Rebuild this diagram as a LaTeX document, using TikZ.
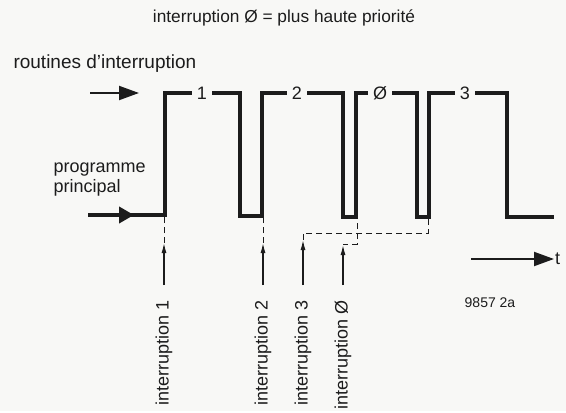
\documentclass[tikz,border=0pt]{standalone}
\usepackage{fontspec}
\setmainfont{Liberation Sans}
\usepackage{tikz}
\usetikzlibrary{arrows.meta, positioning, calc}
\definecolor{myink}{RGB}{28,28,28}
\definecolor{mypaper}{RGB}{248,248,246}
\tikzset{
  wave/.style={line width=4pt, color=myink, line join=miter},
  levellabel/.style={fill=mypaper, inner xsep=5pt, inner ysep=3pt},
  trigarrow/.style={-{Latex[length=10pt,width=5pt]}, line width=1.2pt, color=myink},
  trigdash/.style={line width=1pt, color=myink, dash pattern=on 6pt off 4pt},
  triglabel/.style={rotate=90, anchor=east},
  bigarrow/.style={-{Triangle[length=20pt,width=14pt]}, line width=2pt, color=myink}
}

\begin{document}
\begin{tikzpicture}[x=1pt, y=-1pt, every node/.style={font=\fontsize{18}{20}\selectfont, text=myink}]
  % Paper
  \fill[mypaper] (0,0) rectangle (566,411);

  % Title
  \node[font=\fontsize{17.3}{20}\selectfont] (title) at (284,18) {interruption Ø = plus haute priorité};

  % Upper level: interrupt routines
  \node[anchor=west, font=\fontsize{19}{21}\selectfont] (routines) at (10,64) {routines d’interruption};
  \coordinate (rin) at (90,93);
  \coordinate (rout) at (139,93);
  \draw[bigarrow] (rin) -- (rout);

  % Lower level: main program
  \node[anchor=west, align=left] (prog) at (50,180) {programme\\principal};
  \coordinate (pin) at (88,215);
  \coordinate (pmid) at (134,215);

  % Waveform
  \draw[wave] (pin) -- (165,215) -- (165,93) -- (240,93) -- (240,216) -- (262,216)
    -- (262,93) -- (343,93) -- (343,217) -- (356,217) -- (356,93) -- (417,93)
    -- (417,217) -- (429,217) -- (429,93) -- (507,93) -- (507,217) -- (554,217);
  \draw[-{Triangle[length=15pt,width=16pt]}, line width=4pt, color=myink] (pin) -- (pmid);
  \node[levellabel] (lev1) at (202,93) {1};
  \node[levellabel] (lev2) at (297,93) {2};
  \node[levellabel] (lev0) at (380,93) {Ø};
  \node[levellabel] (lev3) at (465,93) {3};

  % Interrupt requests
  \coordinate (i1b) at (164,285);  \coordinate (i1t) at (164,243);
  \coordinate (i2b) at (263,285);  \coordinate (i2t) at (263,243);
  \coordinate (i3b) at (303,285);  \coordinate (i3t) at (303,240);
  \coordinate (i0b) at (343,285);  \coordinate (i0t) at (343,245);
  \draw[trigarrow] (i1b) -- (i1t);
  \draw[trigarrow] (i2b) -- (i2t);
  \draw[trigarrow] (i3b) -- (i3t);
  \draw[trigarrow] (i0b) -- (i0t);
  \node[triglabel] (lab1) at ($(i1b)+(0,12)$) {interruption 1};
  \node[triglabel] (lab2) at ($(i2b)+(0,12)$) {interruption 2};
  \node[triglabel] (lab3) at ($(i3b)+(0,12)$) {interruption 3};
  \node[triglabel] (lab0) at ($(i0b)+(0,12)$) {interruption Ø};

  % Dashed links to the waveform
  \draw[trigdash] (i1t) -- (164,216);
  \draw[trigdash] (i2t) -- (263,217);
  \draw[trigdash] (i3t) |- (428,233) -- (428,218);
  \draw[trigdash] (i0t) |- (357,244) -- (357,218);

  % Time axis
  \coordinate (tin) at (471,259);
  \coordinate (tout) at (554,259);
  \draw[bigarrow] (tin) -- (tout);
  \node[anchor=west, inner sep=1pt] (t) at (tout) {t};

  % Figure number
  \node[font=\fontsize{14}{16}\selectfont] (fig) at (490,303) {9857 2a};
\end{tikzpicture}
\end{document}
